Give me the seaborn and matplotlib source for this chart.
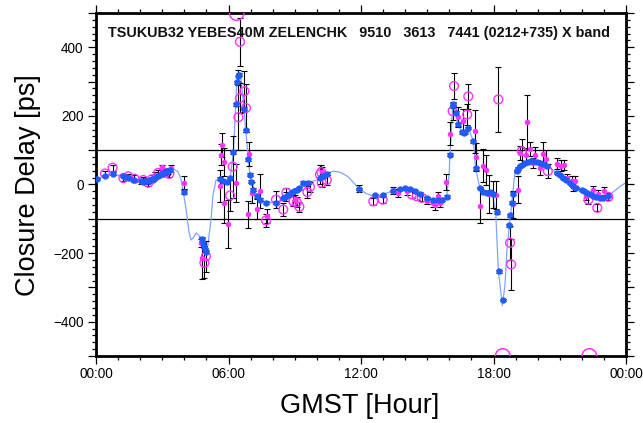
import numpy as np
import pandas as pd
import matplotlib
matplotlib.use("Agg")
import matplotlib.pyplot as plt
from matplotlib.ticker import MultipleLocator, FixedLocator, FuncFormatter
import seaborn as sns

# ---- closure-delay model curve (hour, ps) ----
model_h = [0.00, 0.41, 0.76, 1.00, 1.28, 1.51, 1.78, 2.19, 2.41, 2.64, 2.94, 3.17, 3.35, 3.53,
           3.71, 3.85, 3.95, 4.08, 4.21, 4.30, 4.41, 4.53, 4.66, 4.80, 4.89, 4.98, 5.07, 5.21,
           5.30, 5.43, 5.66, 5.84, 5.98, 6.08, 6.22, 6.33, 6.37, 6.44, 6.49, 6.57, 6.70, 6.78,
           6.90, 6.97, 7.05, 7.16, 7.35, 7.46, 7.70, 7.80, 8.18, 8.48, 8.79, 9.24, 9.54, 9.69,
           10.07, 10.22, 10.45, 10.75, 11.05, 11.41, 11.91, 12.23, 12.56, 12.71, 13.01, 13.46,
           13.77, 14.07, 14.37, 14.67, 14.98, 15.28, 15.58, 15.88, 15.99, 16.03, 16.15, 16.18,
           16.30, 16.41, 16.56, 16.71, 16.86, 17.09, 17.19, 17.39, 17.54, 17.69, 17.84, 17.98,
           18.10, 18.22, 18.40, 18.52, 18.61, 18.72, 18.78, 18.87, 18.98, 19.13, 19.20, 19.43,
           19.81, 20.11, 20.41, 20.87, 21.16, 21.62, 21.99, 22.37, 22.83, 23.20, 23.51, 23.73,
           24.00]
model_v = [15, 26, 31, 27, 22, 19, 12, 9, 11, 17, 31, 36, 41, 44,
           38, 15, -21, -73, -137, -162, -155, -141, -149, -160, -178, -194, -175, -102,
           -29, 12, 15, 9, 9, 19, 94, 234, 298, 316, 320, 306, 221, 158,
           71, 27, 7, -15, -42, -47, -53, -53, -52, -44, -29, -10, 3, 7,
           15, 24, 32, 39, 36, 23, -12, -26, -34, -36, -29, -17,
           -12, -15, -19, -29, -41, -46, -47, -36, 29, 87, 228, 235,
           209, 175, 152, 152, 165, 126, 47, -13, -22, -22, -19, -38,
           -81, -253, -353, -292, -190, -117, -85, -29, 44, 53, 58, 63,
           68, 63, 53, 34, 19, -5, -17, -29, -40, -34, -17, -6,
           6]

# ---- observed closure delays: good points (blue) ----
blue_h = [0.05, 0.41, 0.76, 1.24, 1.32, 1.40, 1.51, 1.74, 2.05, 2.14, 2.22, 2.30, 2.38, 2.46,
          2.55, 2.64, 2.72, 2.80, 2.88, 2.96, 3.05, 3.15, 3.25, 3.35, 3.97, 4.79, 4.84, 4.90,
          4.95, 4.99, 5.62, 5.77, 5.92, 6.07, 6.22, 6.33, 6.37, 6.44, 6.49, 6.70, 6.78, 6.90,
          6.99, 7.04, 7.12, 7.27, 7.42, 7.72, 8.17, 8.48, 8.58, 8.68, 8.78, 8.88, 8.98, 9.08,
          9.18, 9.39, 9.62, 10.14, 10.29, 10.47, 11.91, 12.63, 13.01, 13.46, 13.77, 14.00,
          14.22, 14.45, 14.67, 14.97, 15.27, 15.50, 15.66, 15.88, 16.03, 16.15, 16.18, 16.30,
          16.41, 16.56, 16.66, 16.71, 16.86, 17.09, 17.19, 17.39, 17.54, 17.69, 17.84, 17.99,
          18.14, 18.24, 18.42, 18.72, 18.75, 18.84, 18.87, 19.05, 19.13, 19.20, 19.30, 19.43,
          19.55, 19.68, 19.81, 19.95, 20.11, 20.25, 20.41, 20.87, 21.00, 21.16, 21.30, 21.45,
          21.62, 21.75, 21.99, 22.10, 22.25, 22.37, 22.50, 22.65, 22.83, 22.95, 23.20]
blue_v = [15, 26, 31, 24, 22, 21, 19, 12, 9, 8, 9, 9, 10, 12,
          15, 17, 21, 25, 28, 31, 33, 36, 39, 41, -21, -160, -170, -182,
          -189, -196, 17, 10, 8, 19, 94, 234, 298, 316, 320, 221, 158, 73,
          29, 8, -15, -34, -44, -53, -53, -39, -35, -31, -27, -23, -19, -15,
          -11, 5, 5, 19, 24, 32, -13, -31, -31, -19, -13, -10,
          -13, -19, -27, -39, -46, -46, -44, -36, 87, 228, 235, 209,
          175, 152, 150, 152, 165, 126, 47, -10, -21, -24, -21, -27,
          -81, -253, -337, -119, -90, -53, -27, 39, 46, 53, 58, 63,
          66, 68, 68, 67, 63, 59, 53, 34, 29, 19, 12, 3,
          -5, -9, -17, -20, -25, -29, -33, -37, -40, -40, -34]
blue_err = [3, 3, 4, 3, 3, 3, 3, 4, 8, 3, 8, 3, 3, 3,
            3, 3, 3, 3, 3, 3, 3, 3, 8, 3, 8, 4, 4, 4,
            4, 4, 4, 4, 4, 4, 4, 5, 5, 18, 5, 5, 4, 4,
            4, 4, 4, 4, 4, 4, 4, 4, 4, 4, 4, 4, 4, 4,
            4, 4, 4, 4, 4, 4, 4, 4, 4, 4, 4, 4,
            4, 4, 4, 4, 4, 4, 4, 4, 4, 5, 5, 5,
            4, 4, 4, 4, 4, 4, 4, 4, 4, 4, 4, 4,
            4, 4, 4, 4, 4, 4, 4, 4, 4, 3, 3, 3,
            3, 3, 3, 3, 3, 3, 3, 3, 3, 3, 3, 3,
            3, 3, 3, 3, 3, 3, 3, 3, 3, 3, 3]

# ---- flagged points (magenta, filled) ----
mag_h = [2.29, 2.60, 2.67, 2.97, 3.23, 3.40, 3.97, 4.76, 4.79, 5.62, 5.64, 5.71, 5.80, 5.80,
         5.99, 6.34, 6.95, 6.90, 7.05, 7.31, 7.43, 7.74, 8.62, 9.00, 10.22, 11.91, 13.46,
         13.69, 14.10, 14.98, 15.25, 15.35, 15.50, 15.58, 15.87, 16.02, 16.41, 16.64, 17.14,
         17.21, 17.39, 17.54, 17.66, 17.81, 17.96, 18.10, 18.87, 19.13, 19.53, 19.20, 19.48,
         19.66, 19.88, 19.81, 20.11, 20.26, 20.38, 20.87, 21.05, 21.21, 21.32, 21.54, 21.69,
         21.60, 22.19, 22.49, 22.74, 23.01]
mag_v = [10, 19, 29, 52, 36, 47, 5, -170, -214, -5, 87, 115, 66, -53,
         -114, 5, 90, -87, -24, -71, -19, -92, -35, -45, 36, -12, -17,
         -24, -20, -47, -55, -61, -34, -55, 7, 148, 197, 185, 155,
         80, -62, 55, 42, -28, -29, -31, -58, -15, 182, 92, 87,
         104, 87, 63, 49, 90, 75, 61, 55, 56, 19, 10, 10,
         -7, -34, -17, -29, -19]
mag_err = [8, 8, 8, 6, 8, 10, 21, 12, 61, 46, 30, 36, 40, 60,
           70, 55, 35, 40, 30, 30, 50, 20, 12, 15, 15, 10, 10,
           12, 10, 10, 12, 12, 12, 10, 23, 33, 30, 35, 63,
           40, 51, 49, 44, 55, 40, 40, 40, 39, 78, 20, 20,
           21, 22, 15, 20, 34, 25, 15, 15, 15, 12, 15, 15,
           12, 12, 12, 12, 12]

# ---- flagged points (magenta, open) ----
open_h = [0.41, 0.75, 1.24, 1.46, 1.74, 2.14, 2.37, 2.52, 2.82, 3.12, 3.32, 4.91, 4.98, 6.07,
          6.19, 6.45, 6.52, 6.52, 6.72, 6.79, 7.70, 8.15, 8.48, 8.62, 8.94, 9.09, 9.21, 9.57,
          9.69, 10.14, 10.20, 10.22, 10.45, 12.56, 12.98, 14.30, 14.52, 14.75, 16.15, 16.21,
          16.81, 16.86, 18.22, 18.75, 18.80, 19.28, 20.46, 22.30, 22.70, 23.20]
open_v = [32, 49, 19, 24, 17, 13, 5, 15, 34, 34, 31, -228, -209, -32,
          52, 196, 252, 416, 272, 223, -105, -44, -73, -24, -49, -52, -65, -22,
          -7, 29, 36, 5, 13, -49, -44, -29, -34, -39, 214, 287,
          204, 257, 248, -170, -233, 97, 39, -44, -68, -36]
open_err = [8, 9, 8, 8, 10, 8, 8, 8, 8, 8, 8, 45, 45, 45,
            90, 95, 45, 70, 60, 70, 20, 25, 19, 15, 15, 15, 15, 18,
            15, 27, 20, 12, 15, 10, 10, 10, 10, 10, 25, 39,
            30, 37, 94, 50, 75, 37, 20, 12, 10, 10]

# ---- points beyond the plotted range, pinned to the frame ----
off_h = [6.37, 18.42, 22.34]
off_v = [500, -500, -500]

BLUE = "#1f5bff"
MAGENTA = "#ff33ff"
LINE = "#7fa4ff"

sns.set_theme(style="ticks")
plt.rcParams["font.family"] = ["Liberation Sans", "DejaVu Sans"]
plt.rcParams["axes.unicode_minus"] = True

fig = plt.figure(figsize=(6.43, 4.23), dpi=100)
ax = fig.add_axes([96 / 643, 67 / 423, 530 / 643, 343 / 423])
ax.set_facecolor("white")

model = pd.DataFrame({"h": model_h, "v": model_v})
blue = pd.DataFrame({"h": blue_h, "v": blue_v, "e": blue_err})
mag = pd.DataFrame({"h": mag_h, "v": mag_v, "e": mag_err})
opn = pd.DataFrame({"h": open_h, "v": open_v, "e": open_err})
off = pd.DataFrame({"h": off_h, "v": off_v})

for y in (100, -100):
    ax.axhline(y, color="black", lw=0.9, zorder=1)

sns.lineplot(data=model, x="h", y="v", sort=False, estimator=None, color=LINE,
             lw=0.9, ax=ax, zorder=2)

for d in (blue, mag, opn):
    ax.errorbar(d["h"], d["v"], yerr=d["e"], fmt="none", ecolor="black",
                elinewidth=0.8, capsize=2.2, capthick=0.8, zorder=3)

sns.scatterplot(data=opn, x="h", y="v", marker="o", s=40, facecolors="none",
                edgecolors=MAGENTA, linewidth=1.0, ax=ax, zorder=4)
sns.scatterplot(data=mag, x="h", y="v", marker="o", s=16, color=MAGENTA,
                linewidth=0, ax=ax, zorder=5)
sns.scatterplot(data=blue, x="h", y="v", marker="o", s=21, color=BLUE,
                linewidth=0, ax=ax, zorder=6)
sns.scatterplot(data=off, x="h", y="v", marker="o", s=110, facecolors="none",
                edgecolors=MAGENTA, linewidth=1.1, ax=ax, zorder=4, clip_on=True)

ax.set_xlim(0, 24)
ax.set_ylim(-500, 500)

# axes ticks in the style of a plain frame
ax.xaxis.set_major_locator(FixedLocator([0, 6, 12, 18, 24]))
ax.xaxis.set_minor_locator(MultipleLocator(1))
ax.xaxis.set_major_formatter(FuncFormatter(lambda v, p: f"{int(v) % 24:02d}:00"))
ax.yaxis.set_major_locator(MultipleLocator(100))
ax.yaxis.set_minor_locator(MultipleLocator(20))
ax.yaxis.set_major_formatter(FuncFormatter(
    lambda v, p: (f"{int(round(v))}".replace("-", "\u2212")) if round(v) % 200 == 0 else ""))

ax.tick_params(which="both", direction="out", top=True, right=True,
               labeltop=False, labelright=False, color="black", width=0.9)
ax.tick_params(which="major", length=5.5, labelsize=9.8, pad=2.5, labelcolor="black")
ax.tick_params(which="minor", length=2.8)
ax.tick_params(axis="y", which="major", pad=3.5)

for s in ax.spines.values():
    s.set_visible(True)
    s.set_linewidth(2.0)
    s.set_color("black")
ax.grid(False)

ax.set_xlabel("")
ax.set_ylabel("")
fig.text(360 / 643, 1 - 406 / 423, "GMST [Hour]", fontsize=19.5, color="black",
         ha="center", va="center")
fig.text(28 / 643, 1 - 185 / 423, "Closure Delay [ps]", fontsize=19.5, color="black",
         ha="center", va="center", rotation=90)

ax.text(0.0226, 0.9417,
        "TSUKUB32 YEBES40M ZELENCHK   9510   3613   7441 (0212+735) X band",
        transform=ax.transAxes, ha="left", va="center", fontsize=10.4,
        fontweight="bold", color="#111111")

fig.savefig("out.png", dpi=100)
